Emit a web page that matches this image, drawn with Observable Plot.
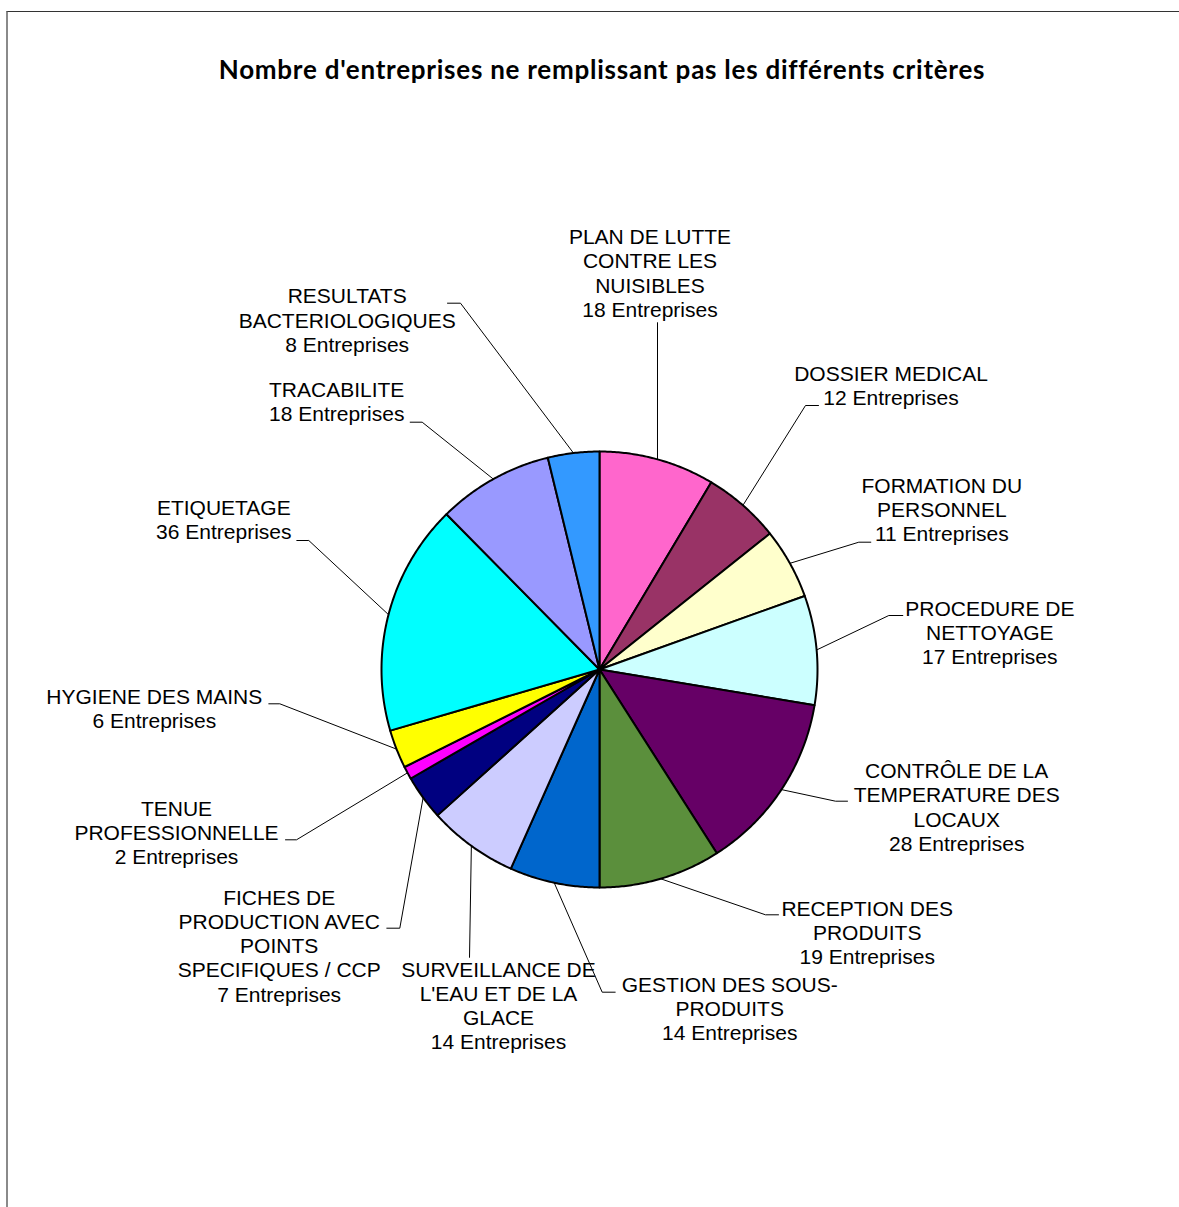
<!DOCTYPE html>
<html>
<head>
<meta charset="utf-8">
<script src="https://cdn.jsdelivr.net/npm/d3@7"></script>
<script src="https://cdn.jsdelivr.net/npm/@observablehq/plot@0.6"></script>
<style>
  html, body { margin: 0; padding: 0; background: #fff; }
  #frame { position: absolute; left: 6px; top: 11px; right: 0; bottom: 0;
           border-left: 2px solid #8a8a8a; border-top: 1px solid #333; pointer-events: none; }
  #title { height: 100px; box-sizing: border-box; padding-top: 52px; padding-left: 25px;
           text-align: center; font: 700 26px Lato, "Open Sans", sans-serif; letter-spacing: 0.75px;
           line-height: 34px; color: #000; white-space: nowrap; }
  #chart { position: relative; }
</style>
</head>
<body>
<div id="frame"></div>
<div id="title">Nombre d'entreprises ne remplissant pas les différents critères</div>
<div id="chart"></div>
<script>
// ---- data ----
const categories = [
  "PLAN DE LUTTE CONTRE LES NUISIBLES",
  "DOSSIER MEDICAL",
  "FORMATION DU PERSONNEL",
  "PROCEDURE DE NETTOYAGE",
  "CONTRÔLE DE LA TEMPERATURE DES LOCAUX",
  "RECEPTION DES PRODUITS",
  "GESTION DES SOUS-PRODUITS",
  "SURVEILLANCE DE L'EAU ET DE LA GLACE",
  "FICHES DE PRODUCTION AVEC POINTS SPECIFIQUES / CCP",
  "TENUE PROFESSIONNELLE",
  "HYGIENE DES MAINS",
  "ETIQUETAGE",
  "TRACABILITE",
  "RESULTATS BACTERIOLOGIQUES"
];
const values = [18, 12, 11, 17, 28, 19, 14, 14, 7, 2, 6, 36, 18, 8];
const colors = ["#FF66CC", "#993366", "#FFFFCC", "#CCFFFF", "#660066", "#5B8F3C", "#0066CC",
                "#CCCCFF", "#000080", "#FF00FF", "#FFFF00", "#00FFFF", "#9999FF", "#3399FF"];
// wrapped category text as displayed in the labels
const labelLines = [
  ["PLAN DE LUTTE", "CONTRE LES", "NUISIBLES"],
  ["DOSSIER MEDICAL"],
  ["FORMATION DU", "PERSONNEL"],
  ["PROCEDURE DE", "NETTOYAGE"],
  ["CONTRÔLE DE LA", "TEMPERATURE DES", "LOCAUX"],
  ["RECEPTION DES", "PRODUITS"],
  ["GESTION DES SOUS-", "PRODUITS"],
  ["SURVEILLANCE DE", "L'EAU ET DE LA", "GLACE"],
  ["FICHES DE", "PRODUCTION AVEC", "POINTS", "SPECIFIQUES / CCP"],
  ["TENUE", "PROFESSIONNELLE"],
  ["HYGIENE DES MAINS"],
  ["ETIQUETAGE"],
  ["TRACABILITE"],
  ["RESULTATS", "BACTERIOLOGIQUES"]
];
const unit = "Entreprises";

// ---- layout (pixels relative to the pie centre, y downward) ----
const labelCenter = [[50.5,-396.7],[291.5,-284.3],[342.3,-160],[390.3,-37.5],[357.2,137.3],
  [267.7,262.5],[130.2,339],[-101,336],[-320.3,276],[-423,162.8],[-445.2,38.7],
  [-375.7,-150],[-262.8,-268.5],[-252.3,-349.7]];
const leaderElbow = [[58,-347],[206,-264],[259.3,-127.3],[289.3,-54],[236,131.7],
  [166,245.3],[2.7,322.7],[-130,288],[-199.7,258.7],[-303,170.3],[-319.7,34.3],
  [-290.7,-129],[-177.3,-247.3],[-139,-366.3]];
const leaderTail = [0, 13, 12, 14, 12, 13, 13, 0, -13, -11, -11, -12, -12, -13];

const W = 1179, H = 1107, CX = 599, CY = 569, R = 218;

// ---- geometry ----
const arcs = d3.pie().sort(null).value(d => d)(values);
const slicePts = [];
arcs.forEach((a, i) => {
  const n = Math.max(2, Math.ceil((a.endAngle - a.startAngle) / (Math.PI / 360)));
  slicePts.push({k: i, x: 0, y: 0, color: colors[i]});
  for (let j = 0; j <= n; j++) {
    const t = a.startAngle + (a.endAngle - a.startAngle) * j / n;
    slicePts.push({k: i, x: Math.sin(t), y: Math.cos(t), color: colors[i]});
  }
});
const leaderPts = [];
arcs.forEach((a, i) => {
  const m = (a.startAngle + a.endAngle) / 2;
  const [ex, ey] = leaderElbow[i];
  leaderPts.push({k: i, x: Math.sin(m), y: Math.cos(m)});
  leaderPts.push({k: i, x: ex / R, y: -ey / R});
  leaderPts.push({k: i, x: (ex + leaderTail[i]) / R, y: -ey / R});
});
const labels = categories.map((c, i) => ({
  x: labelCenter[i][0] / R,
  y: -labelCenter[i][1] / R,
  text: [...labelLines[i], `${values[i]} ${unit}`].join("\n")
}));

const plot = Plot.plot({
  width: W, height: H, margin: 0,
  x: {domain: [-CX / R, (W - CX) / R], axis: null},
  y: {domain: [-(H - CY) / R, CY / R], axis: null},
  color: {type: "identity"},
  style: {background: "transparent"},
  marks: [
    Plot.line(leaderPts, {x: "x", y: "y", z: "k", stroke: "#000", strokeWidth: 1, curve: "linear"}),
    Plot.line(slicePts, {x: "x", y: "y", z: "k", fill: "color", stroke: "#000", strokeWidth: 2,
      strokeLinejoin: "round", curve: "linear-closed"}),
    Plot.text(labels, {x: "x", y: "y", text: "text", fontSize: 21, lineHeight: 1.15,
      fontFamily: "'Liberation Sans', Arial, sans-serif", fill: "#000", textAnchor: "middle"})
  ]
});
document.getElementById("chart").appendChild(plot);
</script>
</body>
</html>
